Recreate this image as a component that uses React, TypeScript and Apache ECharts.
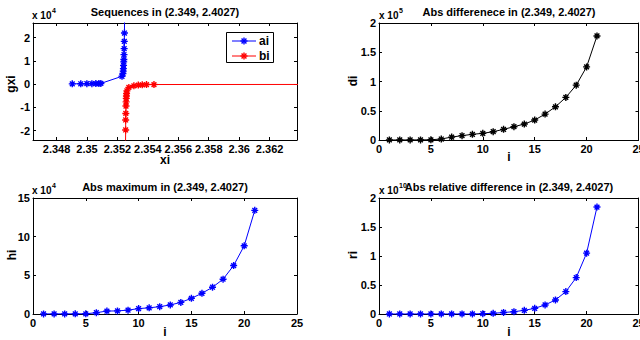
import React, { useEffect, useRef } from "react";
import * as echarts from "echarts";

const FONT = '"Liberation Sans", Arial, Helvetica, sans-serif';

// iteration index
const idx = [1, 2, 3, 4, 5, 6, 7, 8, 9, 10, 11, 12, 13, 14, 15, 16, 17, 18, 19, 20, 21];

// sequence ai (x and g(x))
const aiX = [2.34903, 2.34959, 2.34999, 2.35032, 2.35058, 2.35078, 2.35091, 2.3523, 2.35236, 2.35238, 2.35239, 2.3524, 2.35241, 2.35242, 2.35243, 2.35244, 2.35245, 2.35246, 2.35247, 2.35248, 2.35249];
const aiG = [150, 180, 200, 230, 260, 290, 320, 3400, 4600, 5600, 6700, 8100, 9600, 10600, 12700, 15300, 18400, 22000, 30000, 45000, 70000];

// sequence bi (x and g(x))
const biX = [2.4027, 2.3544, 2.35391, 2.35363, 2.35337, 2.35308, 2.35275, 2.35262, 2.3526, 2.35259, 2.35258, 2.35257, 2.35256, 2.35255, 2.35254, 2.35254, 2.35253, 2.35253, 2.35252, 2.35252, 2.35251];
const biG = [-20, -150, -150, -300, -400, -700, -1400, -2900, -4000, -5100, -6100, -7600, -9400, -12600, -15400, -19700, -26000, -35000, -50000, -80000, -130000];

// abs difference, abs maximum, abs relative difference
const di = [50, 80, 120, 200, 400, 1700, 5000, 7400, 9700, 11400, 14200, 18200, 22700, 27300, 34100, 44300, 56800, 72800, 93800, 125000, 177800];
const hi = [100, 120, 150, 200, 300, 1700, 3800, 4000, 5000, 7000, 8000, 9500, 11700, 15000, 20300, 26800, 34600, 45000, 62700, 88200, 134000];
const ri = [1e6, 1e6, 1e6, 1e6, 1e6, 2e6, 3e6, 5e6, 1e7, 5e7, 1.2e8, 2.6e8, 4.0e8, 6.3e8, 9.8e8, 1.56e9, 2.42e9, 3.86e9, 6.28e9, 1.049e10, 1.844e10];

// tick values
const xiTicks = [2.348, 2.35, 2.352, 2.354, 2.356, 2.358, 2.36, 2.362];
const gxiTicks = [-20000, -10000, 0, 10000, 20000];
const iTicks = [0, 5, 10, 15, 20, 25];
const diTicks = [0, 50000, 100000, 150000, 200000];
const hiTicks = [0, 50000, 100000, 150000];
const riTicks = [0, 0.5e10, 1e10, 1.5e10, 2e10];

const legendNames = ["ai", "bi"];
const legendColors = ["#0000ff", "#ff0000"];

const STAR = "path://M5,0L5,10M0,5L10,5M1.6,1.6L8.4,8.4M1.6,8.4L8.4,1.6";

const fmtScaled = (s: number) => (v: number) => String(+(v / s).toFixed(3));

function makeAxes(grid: number, xr: number[], xt: number[], xf: any, yr: number[], yt: number[], yf: any) {
  const line = { show: true, onZero: false, lineStyle: { color: "#000", width: 1 } };
  const tick = (vals: number[]) => ({ show: true, inside: true, length: 3, customValues: vals, lineStyle: { color: "#000", width: 1 } });
  const label = (vals: number[], f: any) => ({
    show: true, customValues: vals, formatter: f, color: "#000", fontSize: 11, fontWeight: "bold", fontFamily: FONT, margin: 3,
  });
  const x = [
    { type: "value", gridIndex: grid, position: "bottom", min: xr[0], max: xr[1], axisLine: line, axisTick: tick(xt), axisLabel: label(xt, xf), splitLine: { show: false } },
    { type: "value", gridIndex: grid, position: "top", min: xr[0], max: xr[1], axisLine: line, axisTick: tick(xt), axisLabel: { show: false }, splitLine: { show: false } },
  ];
  const y = [
    { type: "value", gridIndex: grid, position: "left", min: yr[0], max: yr[1], axisLine: line, axisTick: tick(yt), axisLabel: label(yt, yf), splitLine: { show: false } },
    { type: "value", gridIndex: grid, position: "right", min: yr[0], max: yr[1], axisLine: line, axisTick: tick(yt), axisLabel: { show: false }, splitLine: { show: false } },
  ];
  return { x, y };
}

function lineSeries(name: string, color: string, data: number[][], axis: number) {
  return {
    type: "line", name, data, xAxisIndex: axis, yAxisIndex: axis,
    symbol: STAR, symbolSize: 7, showSymbol: true, clip: true, silent: true,
    lineStyle: { color, width: 1 },
    itemStyle: { color, borderColor: color, borderWidth: 1.4 },
    emphasis: { disabled: true },
  };
}

function txt(text: string, x: number, y: number, size: number, extra: any = {}) {
  return {
    type: "text", x, y, rotation: extra.rotation || 0, silent: true,
    style: {
      text, x: 0, y: 0, fill: "#000", fontSize: size, fontWeight: "bold", fontFamily: FONT,
      align: extra.align || "center", verticalAlign: "middle",
      textAlign: extra.align || "center", textVerticalAlign: "middle",
    },
  };
}

function seg(x1: number, y1: number, x2: number, y2: number, color: string, w = 1) {
  return { type: "line", silent: true, shape: { x1, y1, x2, y2 }, style: { stroke: color, lineWidth: w } };
}

function star(cx: number, cy: number, r: number, color: string) {
  const d = r * 0.7;
  return [
    seg(cx, cy - r, cx, cy + r, color, 1.4),
    seg(cx - r, cy, cx + r, cy, color, 1.4),
    seg(cx - d, cy - d, cx + d, cy + d, color, 1.4),
    seg(cx - d, cy + d, cx + d, cy - d, color, 1.4),
  ];
}

function legendGraphics() {
  const out: any[] = [
    { type: "rect", silent: true, shape: { x: 226.5, y: 32.5, width: 47, height: 30 }, style: { fill: "#fff", stroke: "#000", lineWidth: 1 } },
  ];
  legendNames.forEach((n, k) => {
    const y = 41 + k * 15;
    out.push(seg(232, y, 256, y, legendColors[k], 1));
    out.push(...star(244, y, 3.5, legendColors[k]));
    out.push(txt(n, 259, y, 12, { align: "left" }));
  });
  return out;
}

export default function App() {
  const ref = useRef<HTMLDivElement>(null);
  useEffect(() => {
    document.body.style.margin = "0";
    if (!ref.current) return;
    const chart = echarts.init(ref.current, undefined, { renderer: "svg" });

    const a0 = makeAxes(0, [2.34645, 2.3638], xiTicks, (v: number) => String(+v.toFixed(3)), [-24000, 26300], gxiTicks, fmtScaled(1e4));
    const a1 = makeAxes(1, [0, 25], iTicks, fmtScaled(1), [0, 200000], diTicks, fmtScaled(1e5));
    const a2 = makeAxes(2, [0, 25], iTicks, fmtScaled(1), [0, 150000], hiTicks, fmtScaled(1e4));
    const a3 = makeAxes(3, [0, 25], iTicks, fmtScaled(1), [0, 2e10], riTicks, fmtScaled(1e10));

    const gridBase = { show: false, containLabel: false, outerBoundsMode: "none" };

    const option: any = {
      animation: false,
      backgroundColor: "#fff",
      grid: [
        { ...gridBase, left: 33, top: 23, width: 264, height: 117 },
        { ...gridBase, left: 379, top: 23, width: 259.5, height: 117 },
        { ...gridBase, left: 33, top: 198, width: 264, height: 116 },
        { ...gridBase, left: 379, top: 198, width: 259.5, height: 116 },
      ],
      xAxis: [...a0.x, ...a1.x, ...a2.x, ...a3.x],
      yAxis: [...a0.y, ...a1.y, ...a2.y, ...a3.y],
      series: [
        lineSeries("ai", legendColors[0], aiX.map((x, k) => [x, aiG[k]]), 0),
        lineSeries("bi", legendColors[1], biX.map((x, k) => [x, biG[k]]), 0),
        lineSeries("di", "#000000", idx.map((x, k) => [x, di[k]]), 2),
        lineSeries("hi", "#0000ff", idx.map((x, k) => [x, hi[k]]), 4),
        lineSeries("ri", "#0000ff", idx.map((x, k) => [x, ri[k]]), 6),
      ],
      graphic: [
        txt("Sequences in (2.349, 2.4027)", 165, 12, 11),
        txt("Abs differenece in (2.349, 2.4027)", 509, 12, 11),
        txt("Abs maximum in (2.349, 2.4027)", 165, 187, 11),
        txt("Abs relative difference in (2.349, 2.4027)", 509, 187, 11),
        txt("x 10", 32, 15, 10, { align: "left" }),
        txt("4", 52, 10, 7, { align: "left" }),
        txt("x 10", 379, 15, 10, { align: "left" }),
        txt("5", 399, 10, 7, { align: "left" }),
        txt("x 10", 32, 190, 10, { align: "left" }),
        txt("4", 52, 185, 7, { align: "left" }),
        txt("x 10", 379, 190, 10, { align: "left" }),
        txt("10", 399, 185, 7, { align: "left" }),
        txt("xi", 165, 160, 12),
        txt("i", 509, 157, 12),
        txt("i", 165, 332, 12),
        txt("i", 509, 332, 12),
        txt("gxi", 11, 84, 12, { rotation: Math.PI / 2 }),
        txt("di", 353, 81, 12, { rotation: Math.PI / 2 }),
        txt("hi", 12, 255, 12, { rotation: Math.PI / 2 }),
        txt("ri", 353, 255, 12, { rotation: Math.PI / 2 }),
        ...legendGraphics(),
      ],
    };
    chart.setOption(option);
    return () => chart.dispose();
  }, []);
  return <div ref={ref} style={{ width: 640, height: 340 }} />;
}
